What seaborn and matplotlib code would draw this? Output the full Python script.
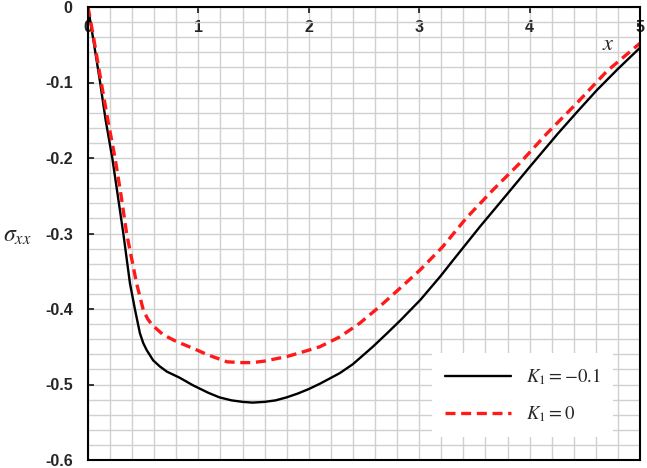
import matplotlib
matplotlib.use("Agg")
import matplotlib.pyplot as plt
import seaborn as sns
import pandas as pd
from matplotlib.ticker import MultipleLocator, FuncFormatter

# ---- data ----
x_k1_neg = [0, 0.05, 0.11, 0.16, 0.22, 0.27, 0.32, 0.38, 0.426, 0.47, 0.50, 0.53, 0.59,
            0.65, 0.715, 0.83, 0.95, 1.09, 1.19, 1.30, 1.40, 1.49, 1.60, 1.70, 1.80,
            1.90, 2.00, 2.10, 2.28, 2.40, 2.58, 2.71, 2.83, 3.01, 3.19, 3.32, 3.55,
            3.79, 4.00, 4.26, 4.43, 4.61, 4.80, 5.00]
y_k1_neg = [0, -0.045, -0.10, -0.15, -0.20, -0.25, -0.30, -0.366, -0.401, -0.432,
            -0.445, -0.454, -0.468, -0.476, -0.483, -0.491, -0.501, -0.511, -0.517,
            -0.521, -0.523, -0.524, -0.523, -0.521, -0.517, -0.512, -0.506, -0.499,
            -0.485, -0.473, -0.450, -0.432, -0.415, -0.388, -0.357, -0.333, -0.291,
            -0.249, -0.212, -0.167, -0.139, -0.110, -0.082, -0.054]

x_k1_zero = [0, 0.05, 0.12, 0.18, 0.245, 0.30, 0.35, 0.44, 0.50, 0.54, 0.58, 0.68,
             0.80, 0.95, 1.09, 1.26, 1.40, 1.49, 1.60, 1.70, 1.80, 1.92, 2.10, 2.28,
             2.46, 2.64, 2.83, 3.01, 3.21, 3.43, 3.67, 3.91, 4.16, 4.43, 4.70, 5.00]
y_k1_zero = [0, -0.04, -0.10, -0.15, -0.20, -0.25, -0.30, -0.366, -0.401, -0.413,
             -0.421, -0.434, -0.443, -0.452, -0.461, -0.470, -0.471, -0.471, -0.469,
             -0.466, -0.463, -0.458, -0.450, -0.437, -0.419, -0.397, -0.372, -0.348,
             -0.318, -0.279, -0.242, -0.207, -0.167, -0.127, -0.085, -0.048]

series_labels = [r"$K_1=-0.1$", r"$K_1=0$"]
x_ticks = [0, 1, 2, 3, 4, 5]
y_ticks = [0, -0.1, -0.2, -0.3, -0.4, -0.5, -0.6]

df = pd.concat([
    pd.DataFrame({"x": x_k1_neg, "y": y_k1_neg, "series": series_labels[0]}),
    pd.DataFrame({"x": x_k1_zero, "y": y_k1_zero, "series": series_labels[1]}),
], ignore_index=True)

sns.set_style("white")
plt.rcParams["font.family"] = ["Liberation Sans", "DejaVu Sans"]
plt.rcParams["mathtext.fontset"] = "stix"

fig = plt.figure(figsize=(6.47, 4.68), dpi=100)
ax = fig.add_axes([88 / 647, 1 - 460 / 468, (640 - 88) / 647, (460 - 7) / 468])

sns.lineplot(data=df, x="x", y="y", hue="series", style="series",
             palette={series_labels[0]: "black", series_labels[1]: "#ff1a1a"},
             dashes={series_labels[0]: "", series_labels[1]: (3, 1.7)},
             sort=False, legend=False, ax=ax, estimator=None)
ax.lines[0].set_linewidth(1.7)
ax.lines[1].set_linewidth(2.4)
for ln in ax.lines[:2]:
    ln.set_solid_joinstyle("round")
    ln.set_dash_joinstyle("round")

ax.set_xlim(0, 5)
ax.set_ylim(-0.6, 0)
ax.set_xticks(x_ticks)
ax.set_yticks(y_ticks)
ax.xaxis.set_minor_locator(MultipleLocator(0.2))
ax.yaxis.set_minor_locator(MultipleLocator(0.02))
ax.grid(True, which="both", color="#d0d0d0", linewidth=1.0)
ax.set_axisbelow(True)

ax.xaxis.tick_top()
ax.tick_params(axis="x", which="major", direction="in", length=4, width=1.3,
               pad=-20, labelsize=11.5, top=True, bottom=False)
ax.tick_params(axis="y", which="major", direction="in", length=4, width=1.3,
               pad=11, labelsize=11.5, left=True, right=False)
ax.tick_params(which="minor", length=0)
ax.yaxis.set_major_formatter(FuncFormatter(lambda v, p: "0" if abs(v) < 1e-9 else f"{v:.1f}"))
ax.xaxis.set_major_formatter(FuncFormatter(lambda v, p: f"{v:.0f}"))
for lbl in ax.get_xticklabels() + ax.get_yticklabels():
    lbl.set_fontweight("bold")

for s in ax.spines.values():
    s.set_visible(True)
    s.set_color("black")
    s.set_linewidth(1.5)

ax.set_xlabel("")
ax.set_ylabel("")

fig.text(3 / 647, 1 - 236 / 468, r"$\sigma_{xx}$", fontsize=17, ha="left", va="center")
fig.text(608 / 647, 1 - 45 / 468, r"$x$", fontsize=16, ha="center", va="center")

leg = ax.legend(ax.lines[:2], series_labels, loc="upper left",
                bbox_to_anchor=(432 / 647, 1 - 353 / 468), bbox_transform=fig.transFigure,
                frameon=True, facecolor="white", edgecolor="none", framealpha=1,
                fancybox=False, fontsize=13.5, handlelength=3.5, handletextpad=0.8,
                labelspacing=0.95, borderpad=0.7, borderaxespad=0)

fig.savefig("out.png", dpi=100)
